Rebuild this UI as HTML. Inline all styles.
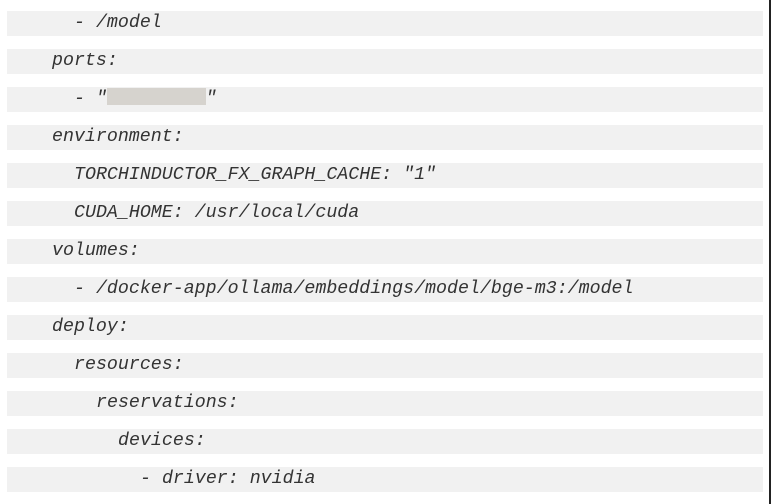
<!DOCTYPE html>
<html><head><style>
body{margin:0;width:772px;height:504px;background:#fff;position:relative;overflow:hidden}
.b{position:absolute;left:7px;width:756px;height:25px;background:#f1f1f1}
.t{position:absolute;font-family:"Liberation Mono",monospace;font-style:italic;font-size:18.3px;line-height:25px;color:#333;white-space:pre}
.r{position:absolute;left:769px;top:0;width:2px;height:504px;background:#222}
</style></head><body>
<div class="b" style="top:11px"></div><div class="t" style="top:11px;left:74px">- /model</div>
<div class="b" style="top:49px"></div><div class="t" style="top:49px;left:52px">ports:</div>
<div class="b" style="top:87px"></div><div class="t" style="top:87px;left:74px">- "         "</div>
<div style="position:absolute;left:107px;top:88px;width:99px;height:17px;background:#d6d3ce"></div>
<div class="b" style="top:125px"></div><div class="t" style="top:125px;left:52px">environment:</div>
<div class="b" style="top:163px"></div><div class="t" style="top:163px;left:74px">TORCHINDUCTOR_FX_GRAPH_CACHE: "1"</div>
<div class="b" style="top:201px"></div><div class="t" style="top:201px;left:74px">CUDA_HOME: /usr/local/cuda</div>
<div class="b" style="top:239px"></div><div class="t" style="top:239px;left:52px">volumes:</div>
<div class="b" style="top:277px"></div><div class="t" style="top:277px;left:74px">- /docker-app/ollama/embeddings/model/bge-m3:/model</div>
<div class="b" style="top:315px"></div><div class="t" style="top:315px;left:52px">deploy:</div>
<div class="b" style="top:353px"></div><div class="t" style="top:353px;left:74px">resources:</div>
<div class="b" style="top:391px"></div><div class="t" style="top:391px;left:96px">reservations:</div>
<div class="b" style="top:429px"></div><div class="t" style="top:429px;left:118px">devices:</div>
<div class="b" style="top:467px"></div><div class="t" style="top:467px;left:140px">- driver: nvidia</div>
<div class="r"></div>
</body></html>
